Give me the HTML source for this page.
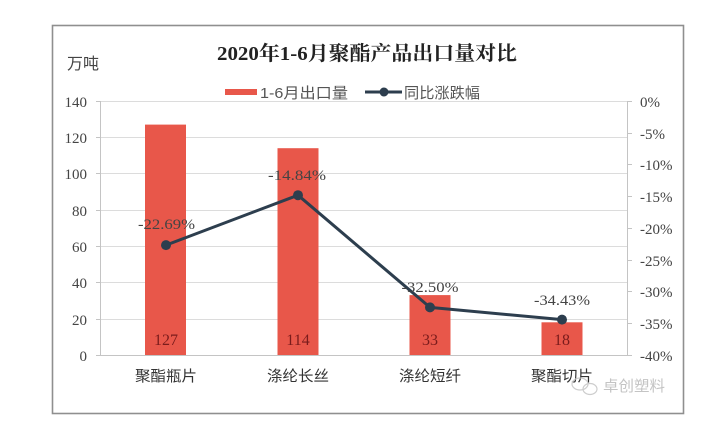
<!DOCTYPE html>
<html>
<head>
<meta charset="utf-8">
<style>
html,body{margin:0;padding:0;background:#fff;}
svg{display:block;}
</style>
</head>
<body>
<svg width="721" height="440" viewBox="0 0 721 440" xmlns="http://www.w3.org/2000/svg">
  <rect x="0" y="0" width="721" height="440" fill="#fff"/>
  <!-- outer frame -->
  <rect x="52.5" y="25.5" width="631" height="388" fill="#fff" stroke="#8f8f8f" stroke-width="1.6"/>

  <!-- title -->
  <text x="367" y="60" text-anchor="middle" font-family="'Liberation Serif','Noto Serif CJK SC',serif" font-weight="bold" font-size="20" fill="#222" textLength="300" lengthAdjust="spacingAndGlyphs">2020年1-6月聚酯产品出口量对比</text>

  <!-- unit -->
  <text x="67" y="69" font-family="'Liberation Sans','Noto Sans CJK SC',sans-serif" font-size="16" fill="#444" textLength="32" lengthAdjust="spacingAndGlyphs">万吨</text>

  <!-- legend -->
  <rect x="225" y="89" width="32" height="6" fill="#e8574a"/>
  <text x="260" y="98" font-family="'Liberation Sans','Noto Sans CJK SC',sans-serif" font-size="15" fill="#555" textLength="88" lengthAdjust="spacingAndGlyphs">1-6月出口量</text>
  <line x1="365" y1="92" x2="402" y2="92" stroke="#2d3e4e" stroke-width="3"/>
  <circle cx="384" cy="92" r="4.5" fill="#2d3e4e"/>
  <text x="404" y="98" font-family="'Liberation Sans','Noto Sans CJK SC',sans-serif" font-size="15" fill="#555" textLength="76" lengthAdjust="spacingAndGlyphs">同比涨跌幅</text>

  <!-- gridlines -->
  <g stroke="#dcdcdc" stroke-width="1">
    <line x1="100" y1="101.5" x2="628" y2="101.5"/>
    <line x1="100" y1="137.5" x2="628" y2="137.5"/>
    <line x1="100" y1="173.5" x2="628" y2="173.5"/>
    <line x1="100" y1="210.5" x2="628" y2="210.5"/>
    <line x1="100" y1="246.5" x2="628" y2="246.5"/>
    <line x1="100" y1="282.5" x2="628" y2="282.5"/>
    <line x1="100" y1="319.5" x2="628" y2="319.5"/>
  </g>
  <!-- axes -->
  <g stroke="#c4c4c4" stroke-width="1">
    <line x1="100.5" y1="101" x2="100.5" y2="355"/>
    <line x1="627.5" y1="101" x2="627.5" y2="355"/>
    <line x1="100" y1="355.5" x2="628" y2="355.5"/>
    <line x1="96" y1="101.5" x2="100" y2="101.5"/>
    <line x1="96" y1="137.5" x2="100" y2="137.5"/>
    <line x1="96" y1="173.5" x2="100" y2="173.5"/>
    <line x1="96" y1="210.5" x2="100" y2="210.5"/>
    <line x1="96" y1="246.5" x2="100" y2="246.5"/>
    <line x1="96" y1="282.5" x2="100" y2="282.5"/>
    <line x1="96" y1="319.5" x2="100" y2="319.5"/>
    <line x1="96" y1="355.5" x2="100" y2="355.5"/>
    <line x1="628" y1="101.5" x2="632" y2="101.5"/>
    <line x1="628" y1="133.5" x2="632" y2="133.5"/>
    <line x1="628" y1="164.5" x2="632" y2="164.5"/>
    <line x1="628" y1="196.5" x2="632" y2="196.5"/>
    <line x1="628" y1="228.5" x2="632" y2="228.5"/>
    <line x1="628" y1="260.5" x2="632" y2="260.5"/>
    <line x1="628" y1="291.5" x2="632" y2="291.5"/>
    <line x1="628" y1="323.5" x2="632" y2="323.5"/>
    <line x1="628" y1="355.5" x2="632" y2="355.5"/>
  </g>

  <!-- left axis labels -->
  <g font-family="'Liberation Serif',serif" font-size="15" fill="#444" text-anchor="end">
    <text x="87" y="107">140</text>
    <text x="87" y="143">120</text>
    <text x="87" y="179">100</text>
    <text x="87" y="216">80</text>
    <text x="87" y="252">60</text>
    <text x="87" y="288">40</text>
    <text x="87" y="325">20</text>
    <text x="87" y="361">0</text>
  </g>
  <!-- right axis labels -->
  <g font-family="'Liberation Serif',serif" font-size="15" fill="#444">
    <text x="640" y="107">0%</text>
    <text x="640" y="139">-5%</text>
    <text x="640" y="170">-10%</text>
    <text x="640" y="202">-15%</text>
    <text x="640" y="234">-20%</text>
    <text x="640" y="266">-25%</text>
    <text x="640" y="297">-30%</text>
    <text x="640" y="329">-35%</text>
    <text x="640" y="361">-40%</text>
  </g>

  <!-- bars -->
  <g fill="#e8574a">
    <rect x="145" y="124.6" width="41" height="230.4"/>
    <rect x="277.5" y="148.2" width="41" height="206.8"/>
    <rect x="409.5" y="295.1" width="41" height="59.9"/>
    <rect x="541.5" y="322.3" width="41" height="32.7"/>
  </g>
  <!-- bar value labels -->
  <g font-family="'Liberation Serif',serif" font-size="16" fill="#7a1c1c" text-anchor="middle">
    <text x="166" y="345">127</text>
    <text x="298" y="345">114</text>
    <text x="430" y="345">33</text>
    <text x="562" y="345">18</text>
  </g>

  <!-- line series -->
  <polyline points="166,245.1 298,195.2 430,307.4 562,319.6" fill="none" stroke="#2d3e4e" stroke-width="3" stroke-linejoin="round"/>
  <g fill="#2d3e4e">
    <circle cx="166" cy="245.1" r="5"/>
    <circle cx="298" cy="195.2" r="5"/>
    <circle cx="430" cy="307.4" r="5"/>
    <circle cx="562" cy="319.6" r="5"/>
  </g>
  <!-- line labels -->
  <g font-family="'Liberation Serif',serif" font-size="15" fill="#444" text-anchor="middle">
    <text x="166.5" y="229" textLength="57" lengthAdjust="spacingAndGlyphs">-22.69%</text>
    <text x="297" y="180" textLength="58" lengthAdjust="spacingAndGlyphs">-14.84%</text>
    <text x="430" y="292" textLength="57" lengthAdjust="spacingAndGlyphs">-32.50%</text>
    <text x="562" y="305" textLength="56" lengthAdjust="spacingAndGlyphs">-34.43%</text>
  </g>

  <!-- category labels -->
  <g font-family="'Liberation Sans','Noto Sans CJK SC',sans-serif" font-size="15" fill="#333" text-anchor="middle">
    <text x="166" y="381" textLength="62" lengthAdjust="spacingAndGlyphs">聚酯瓶片</text>
    <text x="298" y="381" textLength="62" lengthAdjust="spacingAndGlyphs">涤纶长丝</text>
    <text x="430" y="381" textLength="62" lengthAdjust="spacingAndGlyphs">涤纶短纤</text>
    <text x="562" y="381" textLength="62" lengthAdjust="spacingAndGlyphs">聚酯切片</text>
  </g>

  <!-- watermark -->
  <g stroke="#c8c8c8" stroke-width="1.2" fill="none" opacity="0.9">
    <ellipse cx="580" cy="384" rx="8" ry="6"/>
    <ellipse cx="590" cy="389" rx="7" ry="5.5"/>
  </g>
  <text x="603" y="391" font-family="'Liberation Sans','Noto Sans CJK SC',sans-serif" font-size="15" fill="#c4c4c4" textLength="62" lengthAdjust="spacingAndGlyphs">卓创塑料</text>
</svg>
</body>
</html>
